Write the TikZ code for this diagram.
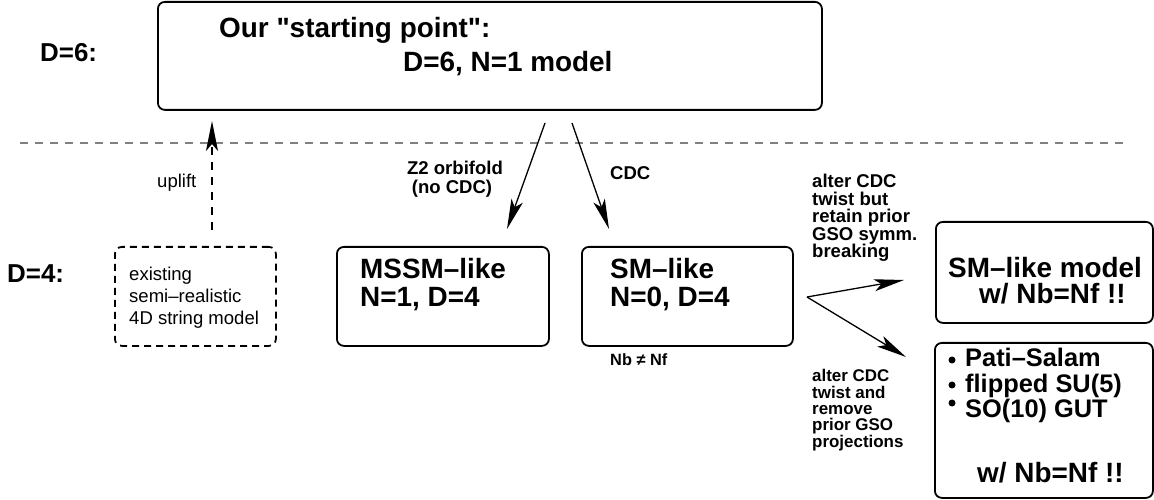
\documentclass[tikz,border=0pt]{standalone}
\usepackage{fontspec}
\setmainfont{Liberation Sans}[Ligatures=TeXOff]
\usetikzlibrary{arrows.meta}

\tikzset{
  model/.style={draw, line width=1.8bp, rounded corners=7bp, inner sep=0pt, anchor=north west},
  guess/.style={model, dash pattern=on 7bp off 5bp},
  big/.style={font=\fontsize{28}{34}\selectfont\bfseries, anchor=base west, inner sep=0pt},
  level/.style={font=\fontsize{26}{30}\selectfont\bfseries, anchor=base west, inner sep=0pt},
  note/.style={font=\fontsize{18.6}{20}\selectfont\bfseries, anchor=base west, inner sep=0pt},
  remark/.style={font=\fontsize{18.6}{22}\selectfont, anchor=base west, inner sep=0pt},
  dot/.style={circle, fill, inner sep=0pt, minimum size=7bp},
  flow/.style={->, line width=1.3bp},
}

\begin{document}
\begin{tikzpicture}[x=1bp, y=-1bp, >={Stealth[length=30bp, width=12bp, inset=7bp]}]
\useasboundingbox (0,0) rectangle (1154,500);

% levels
\node[level] (d6) at (40,62) {D=6:};
\node[level] (d4) at (7,283) {D=4:};
\draw[gray, line width=1.3bp, dash pattern=on 8bp off 7bp] (20,143) -- (1128,143);

% D=6 model
\node[model, minimum width=664bp, minimum height=108bp] (start) at (157,1) {};
\node[big] (start1) at (219,38) {Our "starting point":};
\node[big] (start2) at (403,72) {D=6, N=1 model};

% existing 4D model and uplift
\node[guess, minimum width=161bp, minimum height=99bp] (exist) at (114,246) {};
\foreach \line [count=\i from 0] in {existing, semi–realistic, 4D string model}
  \node[remark] (exist\i) at (129,281+22*\i) {\line};
\coordinate (upfoot) at (212,230);
\coordinate (uptip) at (212,121);
\draw[flow, dash pattern=on 8bp off 7bp] (upfoot) -- (uptip);
\node[remark] (uplift) at (157,188) {uplift};

% D=4 models
\node[model, minimum width=212bp, minimum height=99bp] (mssm) at (336,246) {};
\node[big] (mssm1) at (360,279) {MSSM–like};
\node[big] (mssm2) at (360,307) {N=1, D=4};
\node[model, minimum width=211bp, minimum height=99bp] (sm) at (581,246) {};
\node[big] (sm1) at (610,279) {SM–like};
\node[big] (sm2) at (610,307) {N=0, D=4};
\node[note, font=\fontsize{16.4}{18}\selectfont\bfseries] (nbnf) at (610,366) {Nb ≠ Nf};

% compactifications
\coordinate (z2foot) at (545,123);
\coordinate (z2tip) at (507,229);
\coordinate (cdcfoot) at (572,123);
\coordinate (cdctip) at (609,229);
\draw[flow] (z2foot) -- (z2tip);
\draw[flow] (cdcfoot) -- (cdctip);
\node[note, anchor=base] (z2a) at (455,175) {Z2 orbifold};
\node[note, anchor=base] (z2b) at (452,194) {(no CDC)};
\node[note] (cdc) at (610,180) {CDC};

% altered twists
\node[model, minimum width=217bp, minimum height=101bp] (smnbnf) at (935,221) {};
\node[big] (smnbnf1) at (948,278) {SM–like model};
\node[big] (smnbnf2) at (979,304) {w/ Nb=Nf !!};
\node[model, minimum width=218bp, minimum height=155bp] (gut) at (934,342) {};
\foreach \line/\y/\by [count=\i] in {Pati–Salam/367/360, flipped SU(5)/392/385, SO(10) GUT/417/403} {
  \node[dot] (b\i) at (952,\by) {};
  \node[big, font=\fontsize{25.5}{30}\selectfont\bfseries] (gut\i) at (965,\y) {\line};
}
\node[big] (gut4) at (977,482) {w/ Nb=Nf !!};

\coordinate (fork) at (807,297);
\coordinate (keeptip) at (904,280);
\coordinate (droptip) at (906,357);
\draw[flow] (fork) -- (keeptip);
\draw[flow] (fork) -- (droptip);
\foreach \line [count=\i from 0] in {alter CDC, twist but, retain prior, GSO symm., breaking}
  \node[note] (keep\i) at (812,188+17.5*\i) {\line};
\foreach \line [count=\i from 0] in {alter CDC, twist and, remove, prior GSO, projections}
  \node[note, font=\fontsize{17}{18}\selectfont\bfseries] (drop\i) at (812,382+16.3*\i) {\line};
\end{tikzpicture}
\end{document}
